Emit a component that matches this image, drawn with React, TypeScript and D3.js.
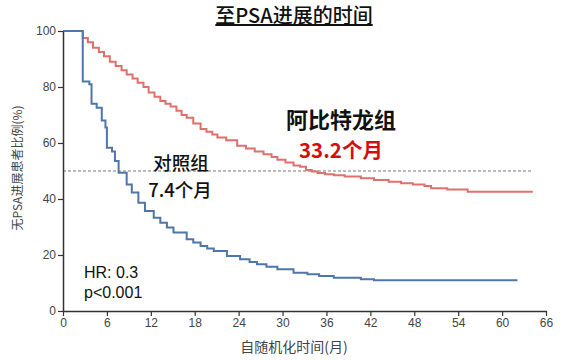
import React, { useEffect, useRef } from 'react';
import * as d3 from 'd3';

// Kaplan-Meier steps: [month, % without PSA progression]
const abirateroneSteps: [number, number][] = [
  [0, 100], [2.7, 97.5], [3.4, 96], [4.1, 94], [4.9, 92.5], [5.6, 91], [6.4, 89],
  [7.2, 87.5], [8.0, 86], [8.7, 84.5], [9.5, 83], [10.2, 81.5], [11.0, 80],
  [11.7, 78], [12.5, 76.5], [13.3, 75], [14.0, 74], [14.7, 73], [15.5, 71.5],
  [16.2, 70], [16.9, 69], [17.8, 67], [18.8, 65], [19.6, 64], [20.4, 63],
  [21.1, 62], [22.3, 61], [23.8, 59], [25.0, 58], [26.2, 57], [27.4, 56],
  [28.5, 55], [29.3, 54], [30.4, 53], [31.5, 52], [32.4, 51.5], [33.2, 50.4],
  [34.0, 49.8], [34.8, 49.3], [35.8, 48.8], [37.0, 48.5], [38.5, 48], [40.7, 47.4],
  [42.5, 46.8], [44.5, 46.2], [46.2, 45.6], [47.8, 45.2], [49.4, 44.6], [50.3, 43.8],
  [52.5, 43.4], [55.3, 42.6], [64.2, 42.6],
];

const controlSteps: [number, number][] = [
  [0, 100], [2.7, 82], [3.6, 81], [3.9, 74], [4.6, 72.6], [5.3, 68], [5.8, 65.5],
  [6.0, 58.3], [6.7, 57], [7.1, 53.6], [7.6, 49.4], [8.7, 45.2], [9.4, 42.3],
  [10.3, 38.7], [11.2, 35.7], [12.4, 33.3], [13.3, 31.5], [14.2, 29.8], [15.1, 28],
  [16.9, 25.6], [17.8, 24.5], [18.8, 23.2], [19.7, 22.3], [20.6, 21.4], [22.4, 19.6],
  [24.2, 18.5], [25.5, 17.5], [26.5, 16.7], [27.8, 15.8], [29.3, 14.9], [31.5, 13.7],
  [33.4, 13.1], [35.0, 12.5], [37.0, 11.9], [40.7, 11.3], [42.5, 11.0], [62.1, 11.0],
];

const xTicks = [0, 6, 12, 18, 24, 30, 36, 42, 48, 54, 60, 66];
const yTicks = [0, 20, 40, 60, 80, 100];
const medianLevel = 50;
const medianLineEnd = 64;

const cjk = '"Noto Sans CJK SC", "Noto Sans", sans-serif';
const latin = '"Liberation Sans", Arial, sans-serif';

function drawChart(node: SVGSVGElement) {
  const width = 587;
  const height = 360;
  const svg = d3.select(node).attr('width', width).attr('height', height);
  svg.selectAll('*').remove();

  const x = d3.scaleLinear().domain([0, 66]).range([63, 546]);
  const y = d3.scaleLinear().domain([0, 100]).range([311, 31]);

  // Title
  svg
    .append('text')
    .attr('x', 294)
    .attr('y', 23)
    .attr('text-anchor', 'middle')
    .attr('font-family', cjk)
    .attr('font-size', 20)
    .attr('font-weight', 500)
    .attr('fill', '#111')
    .attr('text-decoration', 'underline')
    .text('至PSA进展的时间');

  // 50% reference line
  svg
    .append('line')
    .attr('x1', x(0))
    .attr('x2', x(medianLineEnd))
    .attr('y1', y(medianLevel))
    .attr('y2', y(medianLevel))
    .attr('stroke', '#555')
    .attr('stroke-width', 0.8)
    .attr('stroke-dasharray', '3,2');

  const line = d3
    .line<[number, number]>()
    .x((d) => x(d[0]))
    .y((d) => y(d[1]))
    .curve(d3.curveStepAfter);

  svg
    .append('path')
    .datum(abirateroneSteps)
    .attr('fill', 'none')
    .attr('stroke', '#e0706c')
    .attr('stroke-width', 2)
    .attr('d', line);

  svg
    .append('path')
    .datum(controlSteps)
    .attr('fill', 'none')
    .attr('stroke', '#4f76a8')
    .attr('stroke-width', 2)
    .attr('d', line);

  // Axes
  const styleAxis = (g: any) => {
    g.select('.domain').attr('stroke', '#333').attr('stroke-width', 1.5);
    g.selectAll('.tick line').attr('stroke', '#333').attr('stroke-width', 1.2);
    g.selectAll('.tick text').attr('fill', '#444').attr('font-size', 12).attr('font-family', latin);
  };

  svg
    .append('g')
    .attr('transform', `translate(0,${y(0)})`)
    .call(d3.axisBottom(x).tickValues(xTicks).tickSize(5).tickSizeOuter(0).tickPadding(2))
    .call(styleAxis);

  svg
    .append('g')
    .attr('transform', `translate(${x(0)},0)`)
    .call(d3.axisLeft(y).tickValues(yTicks).tickSize(5).tickSizeOuter(0).tickPadding(2))
    .call(styleAxis);

  // Axis titles
  svg
    .append('text')
    .attr('x', 294)
    .attr('y', 352)
    .attr('text-anchor', 'middle')
    .attr('font-family', cjk)
    .attr('font-size', 14)
    .attr('fill', '#444')
    .text('自随机化时间(月)');

  svg
    .append('text')
    .attr('transform', 'translate(22,168) rotate(-90)')
    .attr('text-anchor', 'middle')
    .attr('font-family', cjk)
    .attr('font-size', 12)
    .attr('fill', '#444')
    .text('无PSA进展患者比例(%)');

  // Annotations
  const note = (tx: number, ty: number, text: string, size: number, color: string, weight: number, anchor = 'middle', font = cjk) =>
    svg
      .append('text')
      .attr('x', tx)
      .attr('y', ty)
      .attr('text-anchor', anchor)
      .attr('font-family', font)
      .attr('font-size', size)
      .attr('font-weight', weight)
      .attr('fill', color)
      .text(text);

  note(341, 128, '阿比特龙组', 22, '#111', 700);
  note(341, 158, '33.2个月', 20.5, '#d01010', 700);
  note(181, 170, '对照组', 18.5, '#111', 500);
  note(180, 197, '7.4个月', 18.5, '#111', 500);
  note(84, 278, 'HR: 0.3', 16, '#111', 400, 'start', latin);
  note(84, 298, 'p<0.001', 16, '#111', 400, 'start', latin);
}

export default function App() {
  const ref = useRef<SVGSVGElement>(null);

  useEffect(() => {
    if (ref.current) drawChart(ref.current);
  }, []);

  return (
    <div style={{ position: 'fixed', left: 0, top: 0, background: '#fff' }}>
      <svg ref={ref} style={{ display: 'block' }} />
    </div>
  );
}
